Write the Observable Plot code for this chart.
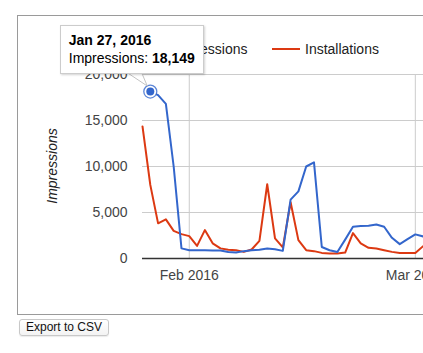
<!DOCTYPE html>
<html>
<head>
<meta charset="utf-8">
<script src="https://cdn.jsdelivr.net/npm/d3@7"></script>
<script src="https://cdn.jsdelivr.net/npm/@observablehq/plot@0.6"></script>
<style>
  html, body { margin:0; padding:0; background:#fff; width:423px; height:353px; overflow:hidden; }
  body { position:relative; font-family:"Liberation Sans", Arial, sans-serif; }
  #frame { position:absolute; left:17px; top:15px; width:480px; height:300px; border:1px solid #9a9a9a; box-sizing:border-box; }
  #chart { position:absolute; left:0; top:0; width:480px; }
  #chart svg { max-width:none !important; width:480px !important; height:320px !important; }
  .leg { position:absolute; font-size:14px; color:#222; white-space:nowrap; }
  .legline { position:absolute; height:2px; }
  #ylabel { position:absolute; left:52px; top:166px; transform:translate(-50%,-50%) rotate(-90deg); font-size:14px; font-style:italic; color:#222; white-space:nowrap; }
  #tip { position:absolute; background:#fff; border:1px solid #ccc; box-sizing:border-box; box-shadow:1px 1px 2px rgba(0,0,0,0.18); font-size:14px; color:#000; white-space:nowrap; }
  #tip .l1 { position:absolute; left:8px; top:6px; font-weight:bold; }
  #tip .l2 { position:absolute; left:8px; top:24px; }
  #ptr { position:absolute; left:0; top:0; overflow:visible; }
  #btn { position:absolute; left:19px; top:319px; width:90px; height:17px; box-sizing:border-box; border:1px solid #c8c8c8; border-radius:3px; background:linear-gradient(#fff,#f3f3f3); font-size:12px; color:#111; text-align:center; line-height:15px; box-shadow:0 1px 1px rgba(0,0,0,0.08); }
</style>
</head>
<body>
<div id="frame"></div>
<div id="chart"></div>
<div class="legline" style="left:139px;top:48px;width:28px;background:#3366cc"></div>
<div class="leg" style="left:172px;top:41px">Impressions</div>
<div class="legline" style="left:272px;top:48px;width:28px;background:#dc3912"></div>
<div class="leg" style="left:305px;top:41px">Installations</div>
<div id="ylabel">Impressions</div>
<div id="btn">Export to CSV</div>
<script>
// ---- data ----
const dates = [
  "2016-01-26","2016-01-27","2016-01-28","2016-01-29","2016-01-30","2016-01-31",
  "2016-02-01","2016-02-02","2016-02-03","2016-02-04","2016-02-05","2016-02-06","2016-02-07",
  "2016-02-08","2016-02-09","2016-02-10","2016-02-11","2016-02-12","2016-02-13","2016-02-14",
  "2016-02-15","2016-02-16","2016-02-17","2016-02-18","2016-02-19","2016-02-20","2016-02-21",
  "2016-02-22","2016-02-23","2016-02-24","2016-02-25","2016-02-26","2016-02-27","2016-02-28",
  "2016-02-29","2016-03-01","2016-03-02"
];
const impressions = [
  null, 18149, 17750, 16800, 10000, 1100,
  900, 900, 900, 880, 870, 700, 650,
  800, 900, 950, 1090, 1000, 830, 6400,
  7300, 10000, 10450, 1250, 900, 700, 2050,
  3450, 3520, 3560, 3700, 3450, 2250, 1560,
  2100, 2620, 2400
];
const installations = [
  14360, 8000, 3820, 4250, 3000, 2650,
  2430, 1370, 3090, 1650, 1100, 960, 900,
  720, 980, 1920, 8070, 2180, 1200, 6110,
  2000, 900, 800, 610, 540, 540, 650,
  2760, 1640, 1160, 1090, 900, 720, 610,
  610, 610, 1340
];
const yTicks = [0, 5000, 10000, 15000, 20000];
const xTicks = ["2016-02-01", "2016-03-01"];
const xDomain = ["2016-01-26", "2016-03-05"];
const highlightDate = "2016-01-27";
const seriesNames = ["Impressions", "Installations"];
const colors = ["#3366cc", "#dc3912"];

// ---- build ----
const parse = d3.utcParse("%Y-%m-%d");
const rows = dates.map((d, i) => ({date: parse(d), impressions: impressions[i], installations: installations[i]}));
const blueRows = rows.filter(r => r.impressions != null);
const hi = rows.filter(r => +r.date === +parse(highlightDate));

const chart = Plot.plot({
  width: 480,
  height: 320,
  marginLeft: 142,
  marginTop: 74,
  marginBottom: 62,
  marginRight: 34,
  style: {fontFamily: "'Liberation Sans', Arial, sans-serif", fontSize: "14px", background: "transparent", overflow: "visible", color: "#444"},
  x: {type: "utc", domain: xDomain.map(parse)},
  y: {domain: [0, 20000]},
  marks: [
    Plot.ruleY(yTicks, {stroke: "#cccccc", strokeWidth: 1}),
    Plot.ruleX(xTicks.map(parse), {stroke: "#cccccc", strokeWidth: 1}),
    Plot.ruleY([0], {stroke: "#333333", strokeWidth: 1.3}),
    Plot.axisY(yTicks, {tickSize: 0, tickPadding: 15, tickFormat: d3.format(","), label: null, fill: "#444"}),
    Plot.axisX(xTicks.map(parse), {tickSize: 0, tickPadding: 12, tickFormat: d3.utcFormat("%b %Y"), label: null, fill: "#444"}),
    Plot.line(rows, {x: "date", y: "installations", stroke: colors[1], strokeWidth: 2}),
    Plot.line(blueRows, {x: "date", y: "impressions", stroke: colors[0], strokeWidth: 2}),
    Plot.dot(hi, {x: "date", y: "impressions", r: 6.5, fill: "white", stroke: colors[0], strokeWidth: 1.3, strokeOpacity: 0.8}),
    Plot.dot(hi, {x: "date", y: "impressions", r: 4, fill: colors[0], stroke: "none"})
  ]
});
document.getElementById("chart").appendChild(chart);

// tooltip anchored to the highlighted point via the plot's scales
const px = chart.scale("x").apply(hi[0].date);
const py = chart.scale("y").apply(hi[0].impressions);
const tipLeft = px - 90, tipTop = py - 66, tipW = 144, tipH = 49;
const tipBottom = tipTop + tipH;
const NS = "http://www.w3.org/2000/svg";
const ptr = document.createElementNS(NS, "svg");
ptr.setAttribute("id", "ptr");
ptr.setAttribute("width", 423);
ptr.setAttribute("height", 353);
const poly = document.createElementNS(NS, "polygon");
poly.setAttribute("points", `${px-22},${tipBottom-1} ${px-8},${tipBottom-1} ${px-2.5},${py-5}`);
poly.setAttribute("fill", "#fff");
poly.setAttribute("stroke", "#c4c4c4");
poly.setAttribute("stroke-width", "1");
ptr.appendChild(poly);
document.body.appendChild(ptr);

const tip = document.createElement("div");
tip.id = "tip";
tip.style.left = tipLeft + "px";
tip.style.top = tipTop + "px";
tip.style.width = tipW + "px";
tip.style.height = tipH + "px";
const l1 = document.createElement("div");
l1.className = "l1";
l1.textContent = d3.utcFormat("%b %-d, %Y")(hi[0].date);
const l2 = document.createElement("div");
l2.className = "l2";
l2.append(seriesNames[0] + ": ");
const b = document.createElement("b");
b.textContent = d3.format(",")(hi[0].impressions);
l2.appendChild(b);
tip.append(l1, l2);
document.body.appendChild(tip);
</script>
</body>
</html>
